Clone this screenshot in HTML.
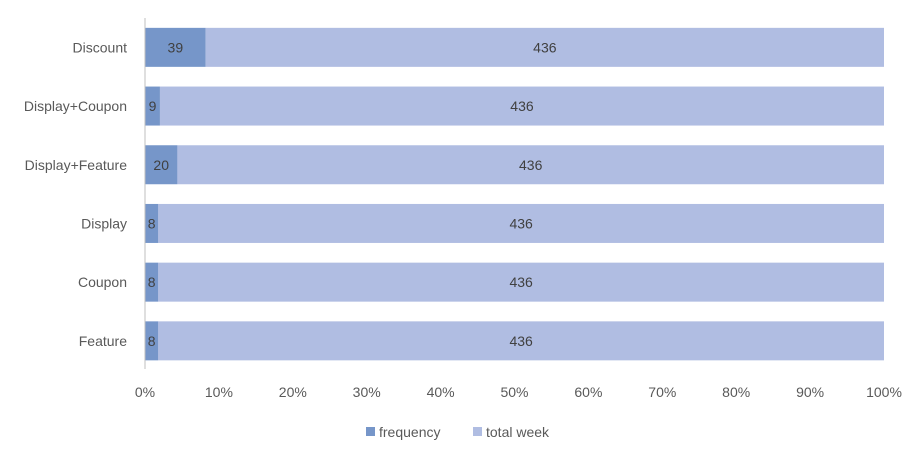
<!DOCTYPE html>
<html><head><meta charset="utf-8"><style>
body{margin:0;background:#fff;}
svg{display:block;font-family:"Liberation Sans",sans-serif;}
</style></head><body>
<svg width="921" height="456">
<g id="plot"></g>
<line x1="145" y1="18" x2="145" y2="369" stroke="#bfbfbf" stroke-width="1"/>
<g>
<rect x="366" y="427" width="9" height="9" fill="#7696c9"/>
<text x="379" y="437" font-size="14" fill="#595959">frequency</text>
<rect x="473" y="427" width="9" height="9" fill="#b0bde2"/>
<text x="486" y="437" font-size="14" fill="#595959">total week</text>
</g>
</svg>
<script>
const categories=["Discount","Display+Coupon","Display+Feature","Display","Coupon","Feature"];
const frequency=[39,9,20,8,8,8];
const totalWeek=[436,436,436,436,436,436];
const ticks=["0%","10%","20%","30%","40%","50%","60%","70%","80%","90%","100%"];
const NS="http://www.w3.org/2000/svg";
const g=document.getElementById('plot');
const x0=145,x1=884,yTop=18,band=58.7,bh=39;
const xs=p=>x0+p*(x1-x0);
function mk(t,a){const e=document.createElementNS(NS,t);for(const k in a)e.setAttribute(k,a[k]);g.appendChild(e);return e;}
ticks.forEach((t,i)=>{
 const e=mk('text',{x:xs(i/(ticks.length-1)),y:397,'font-size':14,fill:'#595959','text-anchor':'middle'});
 e.textContent=t;
 
 
});
categories.forEach((c,i)=>{
 const cy=yTop+band*i+band/2;
 const tot=frequency[i]+totalWeek[i];
 const p=frequency[i]/tot;
 const lab=mk('text',{x:127,y:cy+5,'font-size':14,fill:'#595959','text-anchor':'end'});
 lab.textContent=c;
 
 
 const r1=mk('rect',{x:xs(0),y:cy-bh/2,width:xs(p)-xs(0),height:bh,fill:'#7696c9'});
 
 
 const r2=mk('rect',{x:xs(p),y:cy-bh/2,width:xs(1)-xs(p),height:bh,fill:'#b0bde2'});
 
 
 const t1=mk('text',{x:(xs(0)+xs(p))/2,y:cy+5,'font-size':14,fill:'#404040','text-anchor':'middle'});
 t1.textContent=frequency[i];
 
 
 const t2=mk('text',{x:(xs(p)+xs(1))/2,y:cy+5,'font-size':14,fill:'#404040','text-anchor':'middle'});
 t2.textContent=totalWeek[i];
 
 
});
</script>
</body></html>
